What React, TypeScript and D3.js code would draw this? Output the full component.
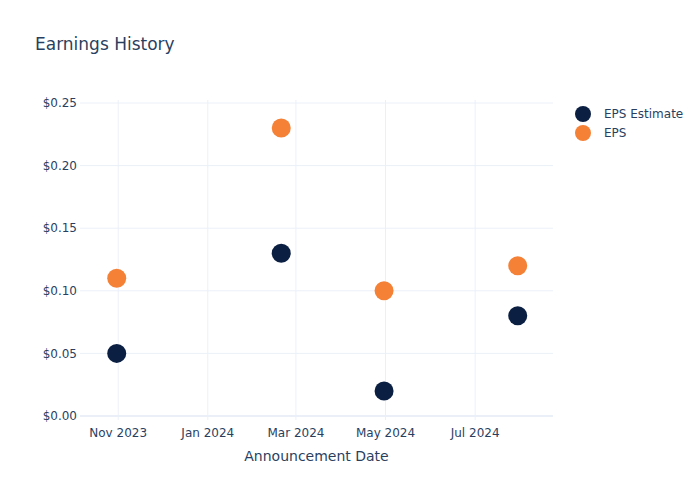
import React from "react";
import * as d3 from "d3";

const dates = ["2023-10-31", "2024-02-20", "2024-04-30", "2024-07-30"];
const epsEstimate = [0.05, 0.13, 0.02, 0.08];
const eps = [0.11, 0.23, 0.1, 0.12];
const yTicks = [0, 0.05, 0.1, 0.15, 0.2, 0.25];
const xTickDates = ["2023-11-01", "2024-01-01", "2024-03-01", "2024-05-01", "2024-07-01"];
const seriesNames = ["EPS Estimate", "EPS"];
const colors = ["#0b1f42", "#f58136"];

const W = 700, H = 500;
const left = 80, right = 553, top = 100, bottom = 420;
const parse = d3.utcParse("%Y-%m-%d");

export default function App() {
  const x = d3.scaleUtc().domain([parse("2023-10-06")!, parse("2024-08-23")!]).range([left, right]);
  const y = d3.scaleLinear().domain([-0.0032, 0.2524]).range([bottom, top]);
  const fmtX = d3.utcFormat("%b %Y");
  const font = "'DejaVu Sans', verdana, arial, sans-serif";
  const textColor = "#2a3f5f";
  const series = [epsEstimate, eps];
  return (
    <svg width={W} height={H} style={{ position: "absolute", left: 0, top: 0, fontFamily: font }}>
      <rect width={W} height={H} fill="#fff" />
      {xTickDates.map((d) => (
        <line key={d} x1={x(parse(d)!)} x2={x(parse(d)!)} y1={top} y2={bottom} stroke="#EBF0F8" strokeWidth={1} />
      ))}
      {yTicks.map((t) => (
        <line key={t} x1={left} x2={right} y1={y(t)} y2={y(t)} stroke="#EBF0F8" strokeWidth={t === 0 ? 2 : 1} />
      ))}
      {yTicks.map((t) => (
        <text key={t} x={left - 3} y={y(t)} dy="0.35em" textAnchor="end" fontSize={12} fill={textColor}>
          {d3.format("$.2f")(t)}
        </text>
      ))}
      {xTickDates.map((d) => (
        <text key={d} x={x(parse(d)!)} y={bottom + 17} textAnchor="middle" fontSize={12} fill={textColor}>
          {fmtX(parse(d)!)}
        </text>
      ))}
      <text x={(left + right) / 2} y={461} textAnchor="middle" fontSize={14} fill={textColor}>
        Announcement Date
      </text>
      <text x={35} y={50} fontSize={17} fill={textColor}>Earnings History</text>
      {series.map((s, si) =>
        s.map((v, i) => (
          <circle key={si + "-" + i} cx={x(parse(dates[i])!)} cy={y(v)} r={9.5} fill={colors[si]} />
        ))
      )}
      {seriesNames.map((n, i) => (
        <g key={n} transform={`translate(583, ${114 + i * 19})`}>
          <circle r={8} fill={colors[i]} />
          <text x={21} dy="0.35em" fontSize={12} fill={textColor}>{n}</text>
        </g>
      ))}
    </svg>
  );
}
